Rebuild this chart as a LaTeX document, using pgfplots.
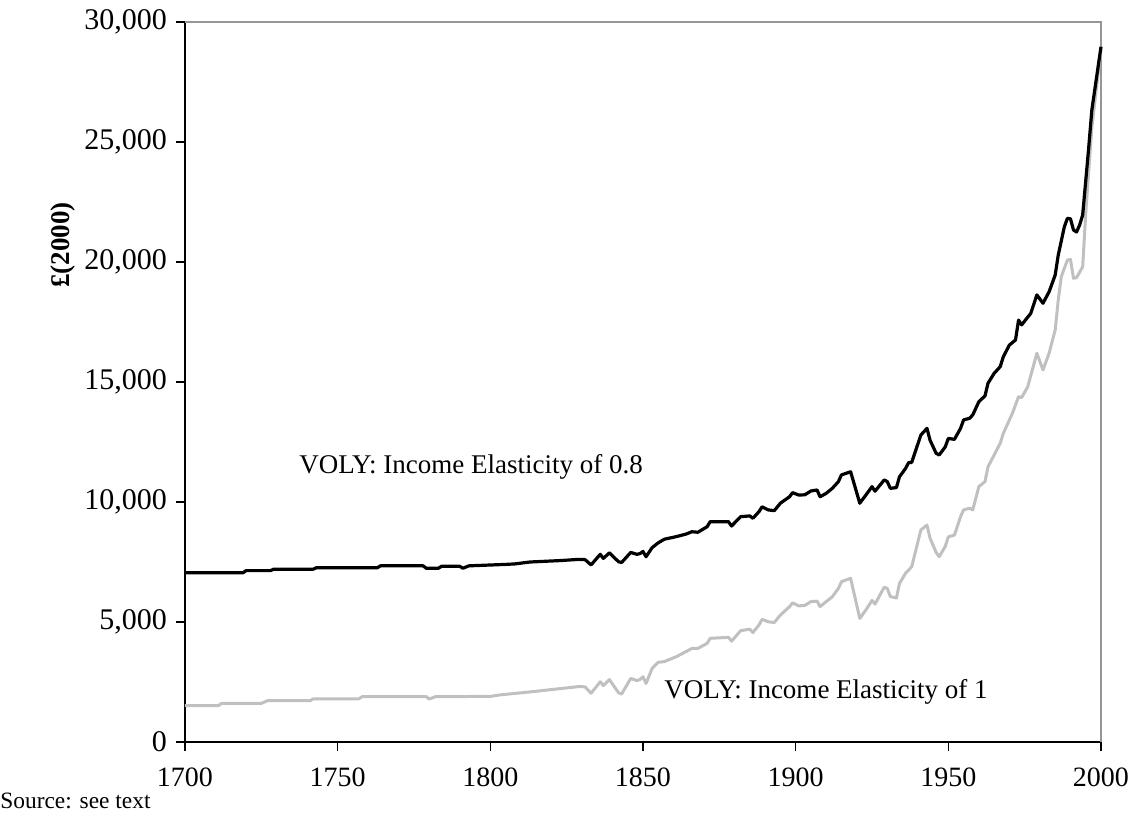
\documentclass[border=0pt]{standalone}
\usepackage{pgfplots}
\pgfplotsset{compat=1.18}
\usepackage{fontspec}
\setmainfont{Liberation Serif}
\definecolor{lightgreyline}{RGB}{192,192,192}
\definecolor{framegrey}{RGB}{150,150,150}

\begin{document}
\begin{tikzpicture}
\useasboundingbox (-92.5pt,-39.5pt) rectangle (473pt,371pt);
\begin{axis}[
  at={(0pt,0pt)}, anchor=south west,
  scale only axis, width=458pt, height=360pt,
  xmin=1700, xmax=2000, ymin=0, ymax=30000,
  axis lines=left, axis line style={-, black, line width=0.8pt},
  xtick={1700,1750,...,2000}, ytick={0,5000,...,30000},
  tick align=outside, major tick length=4.5pt,
  tick style={black, line width=0.8pt},
  /pgf/number format/assume math mode=true,
  x tick label style={font=\fontsize{14}{16}\selectfont, yshift=-5pt, /pgf/number format/1000 sep={}},
  y tick label style={font=\fontsize{15}{17}\selectfont, xshift=-1pt, /pgf/number format/1000 sep={,}},
  scaled y ticks=false,
  clip=false,
]
\draw[framegrey, line width=0.6pt] (axis cs:1700,30000) -- (axis cs:2000,30000) -- (axis cs:2000,0);

\addplot[lightgreyline, line width=1.5pt, line join=round] coordinates {
(1700,1520) (1711,1520) (1712,1610) (1725,1610) (1727,1720) (1741,1720)
(1742,1800) (1757,1800) (1758,1890) (1779,1890) (1780,1790) (1782,1890)
(1800,1900) (1803,1960) (1814,2100) (1824,2240) (1829,2310) (1831,2300)
(1833,2030) (1836,2510) (1837,2350) (1839,2600) (1842,2050) (1843,2000)
(1846,2650) (1848,2560) (1849,2600) (1850,2720) (1851,2440) (1853,3070)
(1855,3320) (1857,3350) (1861,3560) (1864,3760) (1866,3900) (1868,3900)
(1871,4110) (1872,4320) (1878,4360) (1879,4200) (1882,4640) (1885,4700)
(1886,4560) (1888,4880) (1889,5110) (1891,5010) (1893,4980) (1895,5290)
(1898,5640) (1899,5800) (1901,5670) (1903,5690) (1905,5850) (1907,5870)
(1908,5640) (1910,5850) (1912,6050) (1914,6400) (1915,6680) (1918,6820)
(1921,5150) (1923,5500) (1925,5900) (1926,5750) (1929,6450) (1930,6400)
(1931,6060) (1933,6000) (1934,6610) (1936,7030) (1938,7300) (1941,8830)
(1943,9040) (1944,8500) (1946,7900) (1947,7720) (1949,8150) (1950,8550)
(1952,8620) (1954,9390) (1955,9670) (1957,9740) (1958,9670) (1960,10640)
(1962,10850) (1963,11470) (1965,11960) (1967,12450) (1968,12860) (1971,13700)
(1973,14390) (1974,14350) (1976,14800) (1979,16200) (1981,15500) (1983,16200)
(1985,17170) (1986,18420) (1987,19390) (1989,20080) (1990,20110) (1991,19320)
(1992,19350) (1994,19800) (1995,22030) (1997,25600) (2000,28900)
};

\addplot[black, line width=1.6pt, line join=round] coordinates {
(1700,7050) (1719,7050) (1720,7140) (1728,7140) (1729,7200) (1742,7200)
(1743,7260) (1763,7260) (1764,7340) (1778,7340) (1779,7240) (1783,7240)
(1784,7320) (1790,7320) (1791,7240) (1793,7340) (1805,7400) (1808,7420)
(1813,7500) (1823,7560) (1829,7610) (1831,7600) (1833,7380) (1836,7820)
(1837,7650) (1839,7880) (1842,7510) (1843,7480) (1846,7900) (1848,7820)
(1849,7850) (1850,7940) (1851,7720) (1853,8100) (1855,8300) (1857,8450)
(1861,8560) (1864,8660) (1866,8760) (1868,8740) (1871,8970) (1872,9180)
(1878,9180) (1879,9000) (1882,9390) (1885,9420) (1886,9320) (1888,9600)
(1889,9800) (1891,9670) (1893,9640) (1895,9950) (1898,10220) (1899,10390)
(1901,10290) (1903,10300) (1905,10460) (1907,10500) (1908,10220) (1910,10360)
(1912,10570) (1914,10850) (1915,11130) (1918,11260) (1921,9950) (1923,10290)
(1925,10640) (1926,10450) (1929,10920) (1930,10850) (1931,10570) (1933,10600)
(1934,11050) (1936,11400) (1937,11640) (1938,11650) (1941,12790) (1943,13070)
(1944,12580) (1946,12030) (1947,11960) (1949,12300) (1950,12650) (1952,12610)
(1954,13070) (1955,13420) (1957,13490) (1958,13630) (1960,14180) (1962,14420)
(1963,14950) (1965,15360) (1967,15640) (1968,16050) (1970,16540) (1972,16750)
(1973,17580) (1974,17380) (1977,17860) (1979,18630) (1981,18280) (1983,18760)
(1985,19460) (1986,20290) (1988,21470) (1989,21820) (1990,21800) (1991,21330)
(1992,21250) (1993,21540) (1994,21960) (1996,24800) (1997,26330) (2000,28970)
};

\node[anchor=west, inner sep=0pt, font=\fontsize{13.5}{16}\selectfont] at (axis cs:1737.3,11450) {VOLY: Income Elasticity of 0.8};
\node[anchor=west, inner sep=0pt, font=\fontsize{13.5}{16}\selectfont] at (axis cs:1856.9,2083) {VOLY: Income Elasticity of 1};
\node[rotate=90, inner sep=0pt, font=\fontsize{13.5}{16}\selectfont\bfseries] at (axis description cs:-0.1332,0.69) {£(2000)};
\end{axis}
\node[anchor=base west, inner sep=0pt, font=\fontsize{11.7}{14}\selectfont] at (-92.5pt,-33pt) {Source: see text};
\end{tikzpicture}
\end{document}
